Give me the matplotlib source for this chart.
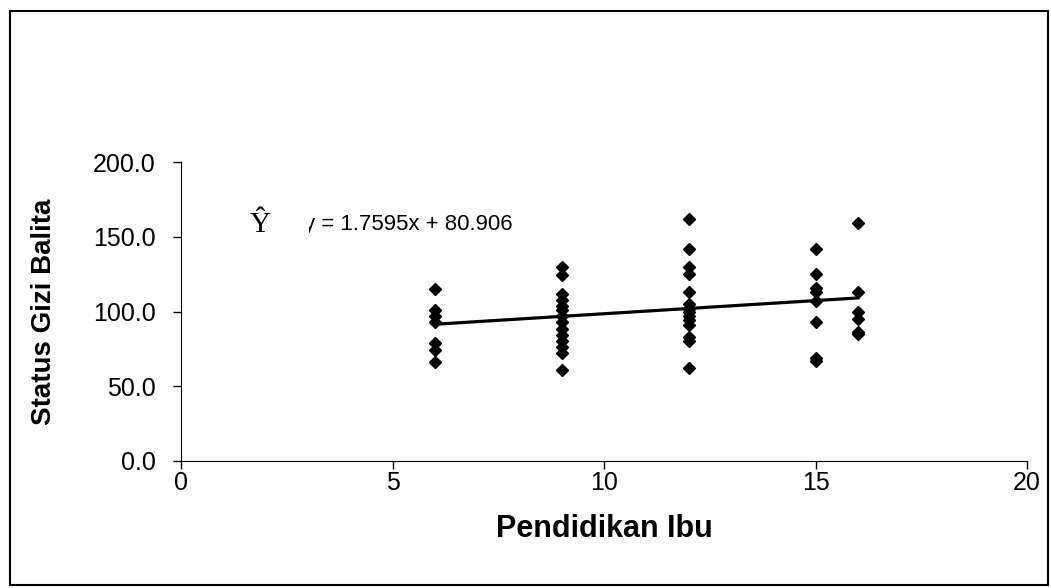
import matplotlib
matplotlib.use("Agg")
import matplotlib.pyplot as plt
from matplotlib.patches import Rectangle
import numpy as np

x6 = [115, 101, 97, 93, 79, 74, 66]
x9 = [129.5, 124.5, 112, 108, 104, 101, 97, 93, 88, 84, 80, 76, 72, 61]
x12 = [162, 142, 130, 125, 113, 105, 102, 100, 97, 94, 91, 83, 80, 62]
x15 = [142, 125, 116, 113, 107, 93, 69, 67]
x16 = [159, 113, 100, 95, 86, 85]
groups = {6: x6, 9: x9, 12: x12, 15: x15, 16: x16}
slope, intercept = 1.7595, 80.906
xticks = [0, 5, 10, 15, 20]
yticks = [0, 50, 100, 150, 200]

plt.rcParams['font.family'] = ['Liberation Sans', 'DejaVu Sans']
fig = plt.figure(figsize=(10.51, 5.88), dpi=100)
fig.patches.append(Rectangle((10/1051, 3/588), 1038/1051, 574/588, transform=fig.transFigure,
                             fill=False, edgecolor='black', linewidth=1.5))
ax = fig.add_axes([181/1051, 1-461/588, 846/1051, 299/588])

xs, ys = [], []
for k, v in groups.items():
    xs += [k]*len(v)
    ys += v
ax.plot(xs, ys, linestyle='none', marker='D', ms=6.5, color='black')
lx = np.array([6, 16])
ax.plot(lx, slope*lx + intercept, color='black', lw=2.3)

ax.set_xlim(0, 20)
ax.set_ylim(0, 200)
ax.set_xticks(xticks)
ax.set_yticks(yticks)
ax.set_yticklabels([f"{v:.1f}" for v in yticks])
ax.tick_params(labelsize=18, length=6, direction='out', width=1)
ax.tick_params(axis='x', pad=1)
ax.tick_params(axis='y', pad=12)
for s in ['top', 'right']:
    ax.spines[s].set_visible(False)
ax.set_xlabel('Pendidikan Ibu', fontsize=22, fontweight='bold', labelpad=14)
ax.set_ylabel('Status Gizi Balita', fontsize=20, fontweight='bold', labelpad=26)

ax.text(2.9, 158, f"y = {slope}x + {intercept}", fontsize=16, va='center', ha='left', zorder=3)
ax.add_patch(Rectangle((2.4, 148), 0.62, 22, facecolor='white', edgecolor='none', zorder=4))
ax.text(1.62, 158, "Ŷ", fontsize=21, va='center', ha='left', family='Liberation Serif', zorder=5)

fig.savefig('out.png', dpi=100)
